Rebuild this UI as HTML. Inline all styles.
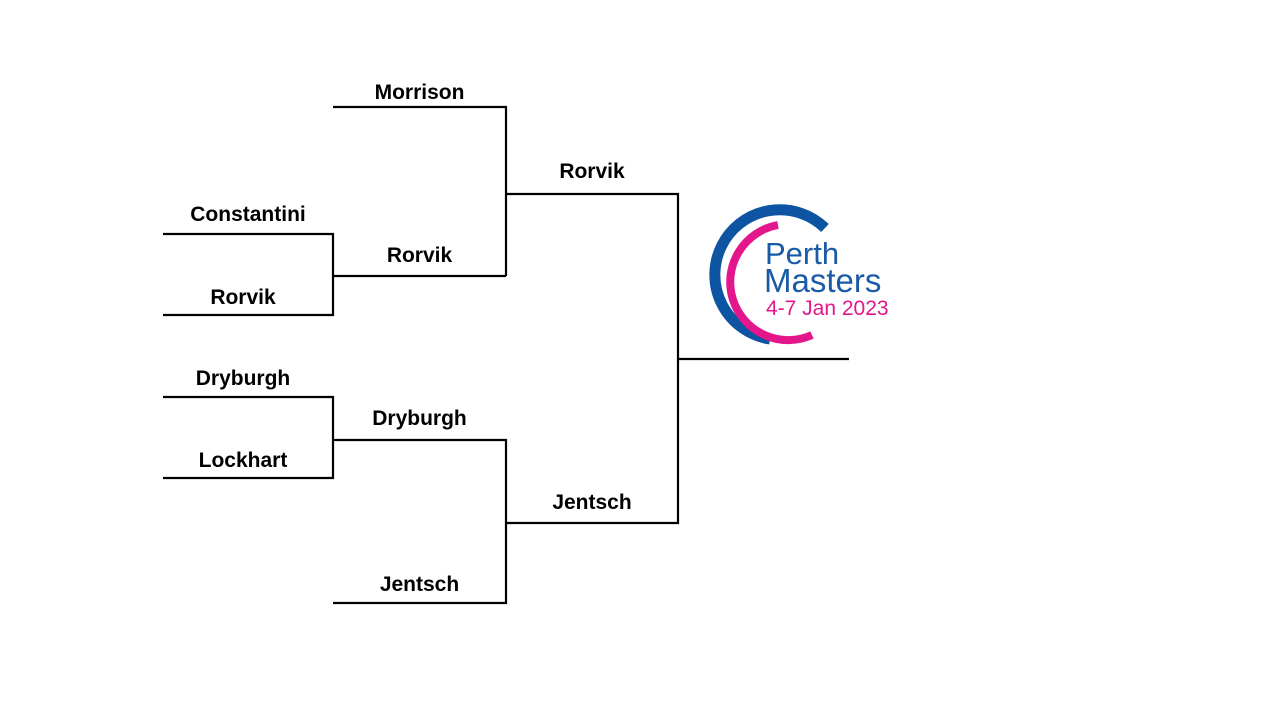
<!DOCTYPE html>
<html><head><meta charset="utf-8"><style>
html,body{margin:0;padding:0;background:#fff;}
body{width:1280px;height:720px;position:relative;overflow:hidden;font-family:"Liberation Sans",Arial,sans-serif;}
.t{position:absolute;font-weight:bold;font-size:21px;color:#000;text-align:center;line-height:24px;}
</style></head><body>
<svg width="1280" height="720" style="position:absolute;left:0;top:0">
<g stroke="#000" stroke-width="2.2" fill="none">
<path d="M163 234H333V315H163"/>
<path d="M333 276H506"/>
<path d="M333 107H506V276"/>
<path d="M506 194H678V523H506"/>
<path d="M163 397H333V478H163"/>
<path d="M333 440H506V603H333"/>
<path d="M678 359H849"/>
</g>
<path d="M825 228 A65 65 0 1 0 770 339" stroke="#0d55a3" stroke-width="11" fill="none"/>
<path d="M778 225 A58 58 0 1 0 812 335" stroke="#e3168c" stroke-width="8" fill="none"/>
<text x="765" y="264" font-family="Liberation Sans,sans-serif" font-size="31" fill="#1a5aa6">Perth</text>
<text x="764" y="292" font-family="Liberation Sans,sans-serif" font-size="33" fill="#1a5aa6">Masters</text>
<text x="766" y="315" font-family="Liberation Sans,sans-serif" font-size="21" fill="#e3168c">4-7 Jan 2023</text>
</svg>
<div class="t" style="left:333px;width:173px;top:81px">Morrison</div>
<div class="t" style="left:506px;width:172px;top:160px">Rorvik</div>
<div class="t" style="left:163px;width:170px;top:203px">Constantini</div>
<div class="t" style="left:333px;width:173px;top:244px">Rorvik</div>
<div class="t" style="left:163px;width:160px;top:286px">Rorvik</div>
<div class="t" style="left:163px;width:160px;top:367px">Dryburgh</div>
<div class="t" style="left:333px;width:173px;top:407px">Dryburgh</div>
<div class="t" style="left:163px;width:160px;top:449px">Lockhart</div>
<div class="t" style="left:506px;width:172px;top:491px">Jentsch</div>
<div class="t" style="left:333px;width:173px;top:573px">Jentsch</div>
</body></html>
